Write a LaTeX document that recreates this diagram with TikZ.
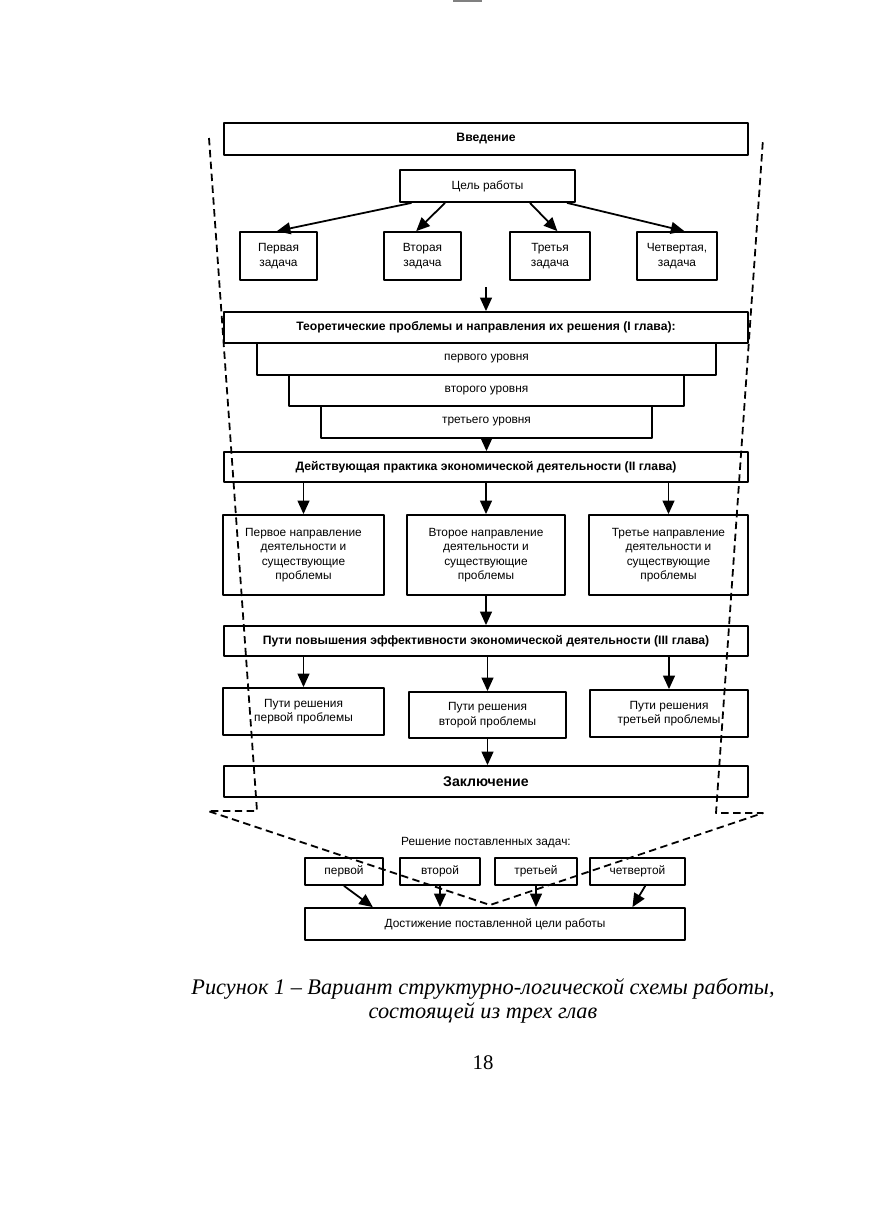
\documentclass[tikz,border=0pt]{standalone}
\usepackage{fontspec}
\setmainfont{Liberation Serif}
\newfontfamily\arialfont{Liberation Sans}
\usetikzlibrary{arrows.meta,calc,positioning}
\newcommand\pxu{0.02365cm}
\newcommand\hdr{\arialfont\bfseries\fontsize{8.2}{9.5}\selectfont}

\begin{document}
\begin{tikzpicture}[x=0.02365cm, y=-0.02365cm, line join=round,
        >={Triangle[length=3.2mm,width=2.8mm]},
        font=\arialfont\fontsize{8}{9.8}\selectfont,
        box/.style={draw, line width=1.2pt, inner sep=1pt, align=center},
        arr/.style={->, line width=1.2pt},
        ramka/.style={line width=1.2pt, dash pattern=on 5pt off 3pt}]
        \useasboundingbox (0,0) rectangle (888,1222);
        \draw[gray, line width=1.5pt] (453,1) -- (482,1);
        
        % введение и задачи
        \node[box, font=\hdr, minimum width=524*\pxu, minimum height=32*\pxu] (vved) at (486,139) {Введение};
        \node[box, minimum width=175*\pxu, minimum height=32*\pxu] (cel) at (487.5,186) {Цель работы};
        \node[box, minimum width=77*\pxu, minimum height=48*\pxu] (z1) at (278.5,256) {Первая\\задача};
        \node[box, minimum width=77*\pxu, minimum height=48*\pxu] (z2) at (422.5,256) {Вторая\\задача};
        \node[box, minimum width=80*\pxu, minimum height=48*\pxu] (z3) at (550,256) {Третья\\задача};
        \node[box, minimum width=80*\pxu, minimum height=48*\pxu] (z4) at (677,256) {Четвертая,\\задача};
        \draw[arr] ($(cel.south west)!0.07!(cel.south east)$) -- ($(z1.north west)!0.48!(z1.north east)$);
        \draw[arr] ($(cel.south west)!0.26!(cel.south east)$) -- ($(z2.north west)!0.42!(z2.north east)$);
        \draw[arr] ($(cel.south west)!0.74!(cel.south east)$) -- ($(z3.north west)!0.59!(z3.north east)$);
        \draw[arr] ($(cel.south west)!0.95!(cel.south east)$) -- ($(z4.north west)!0.59!(z4.north east)$);
        
        % I глава
        \node[box, font=\hdr, minimum width=524*\pxu, minimum height=31*\pxu] (teor) at (486,327.5)
            {Теоретические проблемы и направления их решения (I глава):};
        \node[box, minimum width=459*\pxu, minimum height=32*\pxu] (lvl1) at (486.5,359) {первого уровня};
        \node[box, minimum width=395*\pxu, minimum height=31*\pxu] (lvl2) at (486.5,390.5) {второго уровня};
        \node[box, minimum width=331*\pxu, minimum height=32*\pxu] (lvl3) at (486.5,422) {третьего уровня};
        \coordinate (z0) at (486,287);
        \draw[arr] (z0) -- (z0 |- teor.north);
        
        % II глава
        \node[box, font=\hdr, minimum width=524*\pxu, minimum height=30*\pxu] (prak) at (486,467)
            {Действующая практика экономической деятельности (II глава)};
        \draw[arr] (lvl3.south) -- (lvl3.south |- prak.north);
        \node[box, minimum width=161*\pxu, minimum height=80*\pxu] (napr1) at (303.5,555)
            {Первое направление\\деятельности и\\существующие\\проблемы};
        \node[box, minimum width=158*\pxu, minimum height=80*\pxu] (napr2) at (486,555)
            {Второе направление\\деятельности и\\существующие\\проблемы};
        \node[box, minimum width=159*\pxu, minimum height=80*\pxu] (napr3) at (668.5,555)
            {Третье направление\\деятельности и\\существующие\\проблемы};
        \foreach \n in {napr1,napr2,napr3}
            \draw[arr] (\n.north |- prak.south) -- (\n.north);
        
        % III глава
        \node[box, font=\hdr, minimum width=524*\pxu, minimum height=30*\pxu] (put) at (486,641)
            {Пути повышения эффективности экономической деятельности (III глава)};
        \draw[arr] (napr2.south) -- (napr2.south |- put.north);
        \node[box, minimum width=161*\pxu, minimum height=47*\pxu] (resh1) at (303.5,711.5)
            {Пути решения\\первой проблемы};
        \node[box, minimum width=157*\pxu, minimum height=46*\pxu] (resh2) at (487.5,715)
            {Пути решения\\второй проблемы};
        \node[box, minimum width=158*\pxu, minimum height=47*\pxu] (resh3) at (669,713.5)
            {Пути решения\\третьей проблемы};
        \foreach \n in {resh1,resh2,resh3}
            \draw[arr] (\n.north |- put.south) -- (\n.north);
        
        \node[box, font=\arialfont\bfseries\fontsize{9.5}{11}\selectfont, minimum width=524*\pxu, minimum height=31*\pxu]
            (zakl) at (486,781.5) {Заключение};
        \draw[arr] (resh2.south) -- (resh2.south |- zakl.north);
        
        % решение задач
        \node (reshz) at (486,843) {Решение поставленных задач:};
        \node[box, minimum width=78*\pxu, minimum height=27*\pxu] (m1) at (344,871.5) {первой};
        \node[box, minimum width=80*\pxu, minimum height=27*\pxu] (m2) at (440,871.5) {второй};
        \node[box, minimum width=82*\pxu, minimum height=27*\pxu] (m3) at (536,871.5) {третьей};
        \node[box, minimum width=95*\pxu, minimum height=27*\pxu] (m4) at (637.5,871.5) {четвертой};
        \node[box, minimum width=380*\pxu, minimum height=32*\pxu] (dost) at (495,924)
            {Достижение поставленной цели работы};
        \draw[arr] (m1.south) -- ($(dost.north west)!0.18!(dost.north east)$);
        \draw[arr] (m2.south) -- (m2.south |- dost.north);
        \draw[arr] (m3.south) -- (m3.south |- dost.north);
        \draw[arr] ($(m4.south west)!0.58!(m4.south east)$) -- ($(dost.north west)!0.86!(dost.north east)$);
        
        % пунктирная рамка
        \coordinate (l1) at (209,138);
        \coordinate (l2) at (257,811);
        \coordinate (l3) at (208,811);
        \coordinate (v) at (490,905);
        \coordinate (r3) at (763,813);
        \coordinate (r2) at (716,813);
        \coordinate (r1) at (763,139);
        \draw[ramka] (l1) -- (l2) -- (l3) -- (v) -- (r3) -- (r2) -- (r1);
        
        \node[font=\rmfamily\itshape\fontsize{15}{16.5}\selectfont, align=center] (cap) at (483,1001)
            {Рисунок 1 – Вариант структурно-логической схемы работы,\\состоящей из трех глав};
        \node[font=\rmfamily\fontsize{14}{16}\selectfont] (pg) at (483,1063) {18};
        
    \end{tikzpicture}
\end{document}
